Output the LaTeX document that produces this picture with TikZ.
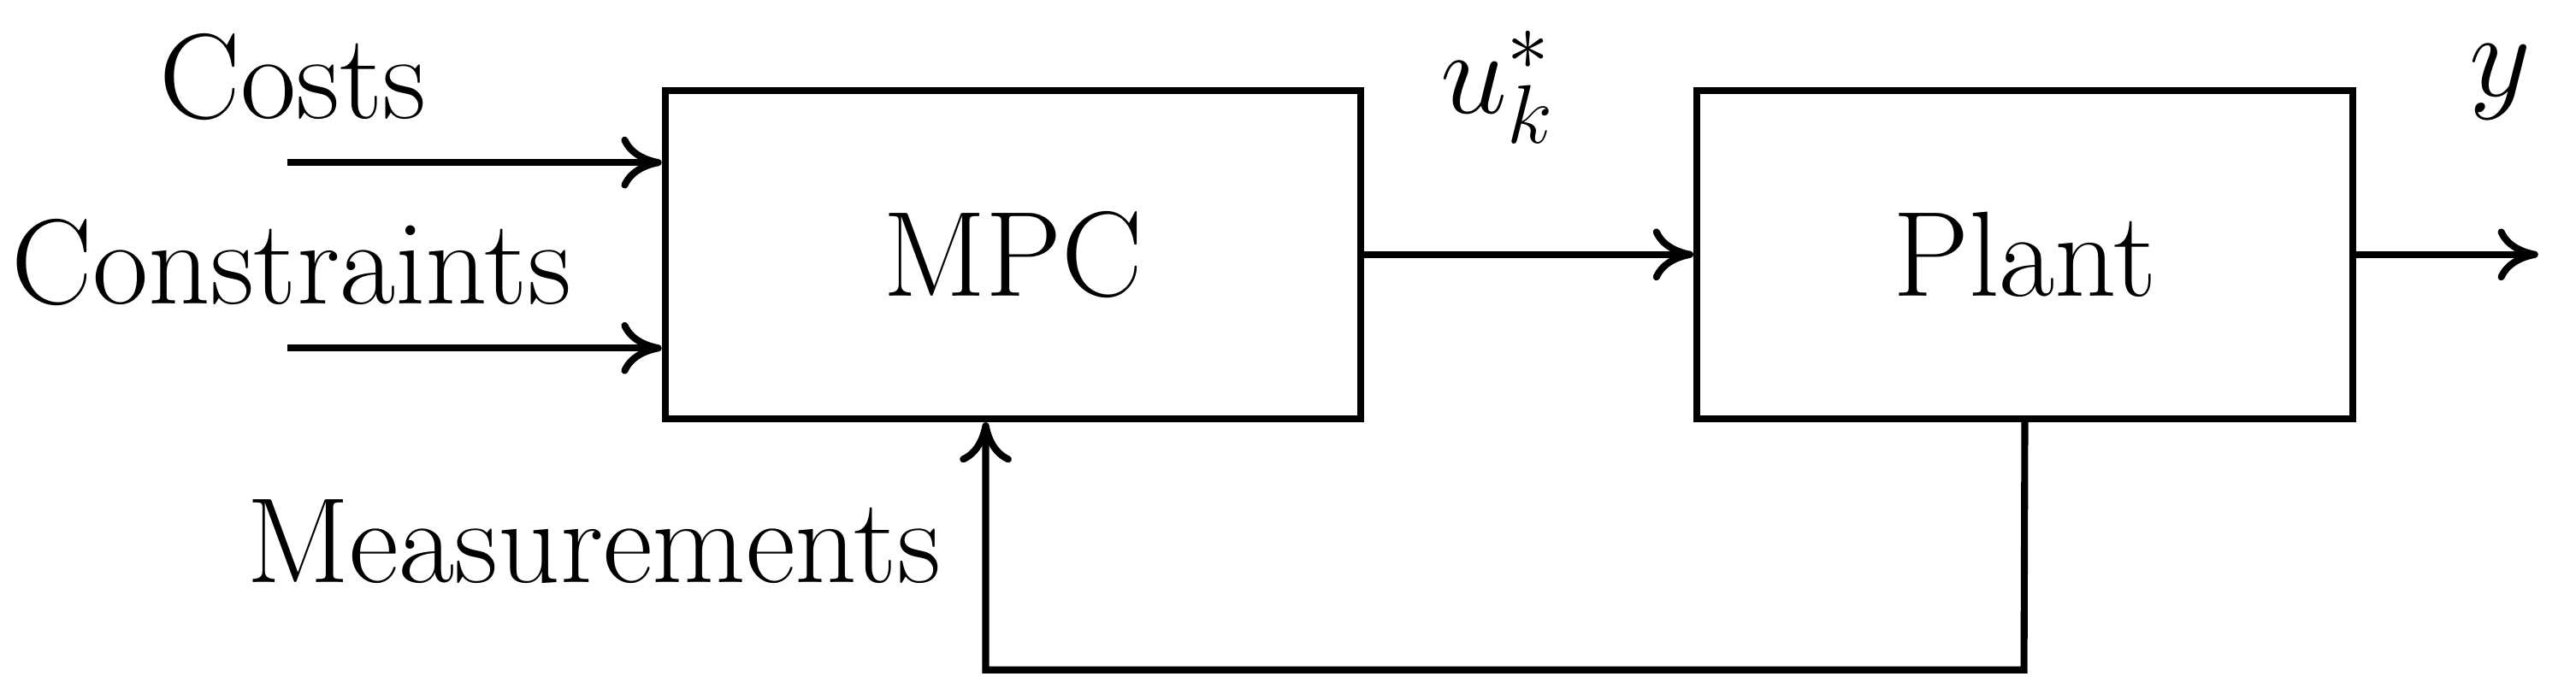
\documentclass[tikz,border=0pt]{standalone}
\usetikzlibrary{arrows.meta}
\begin{document}
\begin{tikzpicture}[x=0.01cm,y=-0.01cm,line width=1.2pt,
  blk/.style={draw,rectangle,inner sep=0pt},
  lbl/.style={font=\fontsize{21}{25}\selectfont,inner sep=0pt},
  arr/.style={-{To[length=7pt,width=9pt]}}]
\useasboundingbox (0,0) rectangle (1568,426);
\node[blk,minimum width=4.23cm,minimum height=2cm,lbl] (mpc) at (616.5,155) {MPC};
\node[blk,minimum width=3.99cm,minimum height=2cm,lbl] (plant) at (1232.5,155) {Plant};
\coordinate (c0) at (175,99);
\coordinate (k0) at (175,212);
\coordinate (out) at (1545,155);
\coordinate (fb1) at (1232,408);
\coordinate (fb2) at (600,408);
\draw[arr] (c0) -- (c0 -| mpc.west);
\draw[arr] (k0) -- (k0 -| mpc.west);
\draw[arr] (mpc.east) -- (plant.west);
\draw[arr] (plant.east) -- (out);
\draw[arr] (plant.south) -- (fb1) -- (fb2) -- (fb2 |- mpc.south);
\node[lbl,anchor=base west] (costs) at (95,72) {Costs};
\node[lbl,anchor=base west] (cons) at (5,185) {Constraints};
\node[lbl,anchor=base west] (meas) at (148,355) {Measurements};
\node[lbl] (u) at (912,53) {$u_k^*$};
\node[lbl] (y) at (1522,50) {$y$};
\end{tikzpicture}
\end{document}
